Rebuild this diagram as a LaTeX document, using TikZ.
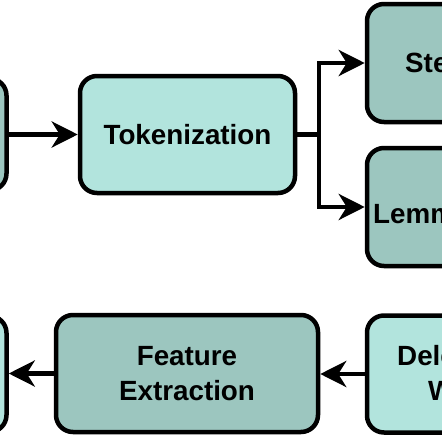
\documentclass[tikz,border=0pt]{standalone}
\usepackage{fontspec}
\setmainfont{Liberation Sans}
\usetikzlibrary{arrows.meta}
\definecolor{lightteal}{HTML}{B2E4DD}
\definecolor{darkteal}{HTML}{9CC6BF}
\tikzset{
  box/.style={draw=black, line width=4.5pt, rounded corners=17pt, inner sep=0pt,
    font=\bfseries\fontsize{27.8}{35}\selectfont, align=center},
  lightbox/.style={box, fill=lightteal},
  darkbox/.style={box, fill=darkteal},
  lbl/.style={inner sep=0pt, font=\bfseries\fontsize{27.8}{35}\selectfont, anchor=base west},
  arr/.style={draw=black, line width=4.5pt, -{Stealth[length=26pt,width=26pt,inset=8pt]}},
  conn/.style={draw=black, line width=4.5pt}
}
\begin{document}
\begin{tikzpicture}[x=1pt,y=-1pt]
\useasboundingbox (0,0) rectangle (442,442);
\fill[white] (0,0) rectangle (442,442);
\clip (0,0) rectangle (442,442);
% top row
\node[darkbox, minimum width=116pt, minimum height=112pt] (lt) at (-51.5,134.5) {};
\node[lightbox, minimum width=215pt, minimum height=117pt] (tok) at (187.5,134.5) {Tokenization};
\node[darkbox, minimum width=200pt, minimum height=118pt] (stem) at (467,63) {};
\node[darkbox, minimum width=200pt, minimum height=118pt] (lemm) at (467,207) {};
\node[lbl] (stemtxt) at (405,72) {Ste};
\node[lbl] (lemmtxt) at (373,223) {Lemm};
% bottom row
\node[lightbox, minimum width=116pt, minimum height=116pt] (lb) at (-51.5,374) {};
\node[darkbox, minimum width=262pt, minimum height=117pt] (feat) at (187,373.5) {Feature\\Extraction};
\node[lightbox, minimum width=200pt, minimum height=117pt] (del) at (467,374) {};
\node[lbl] (deltxt1) at (397,365) {Dele};
\node[lbl] (deltxt2) at (428,400) {W};
% connectors
\draw[arr] (lt.east) -- (tok.west);
\coordinate (br) at (319,134.5);
\draw[conn] (tok.east) -- (br);
\draw[arr] (br) |- (stem.west);
\draw[arr] (br) |- (lemm.west);
\draw[arr] (del.west) -- (del.west -| feat.east);
\draw[arr] (feat.west) -- (feat.west -| lb.east);
\end{tikzpicture}
\end{document}
